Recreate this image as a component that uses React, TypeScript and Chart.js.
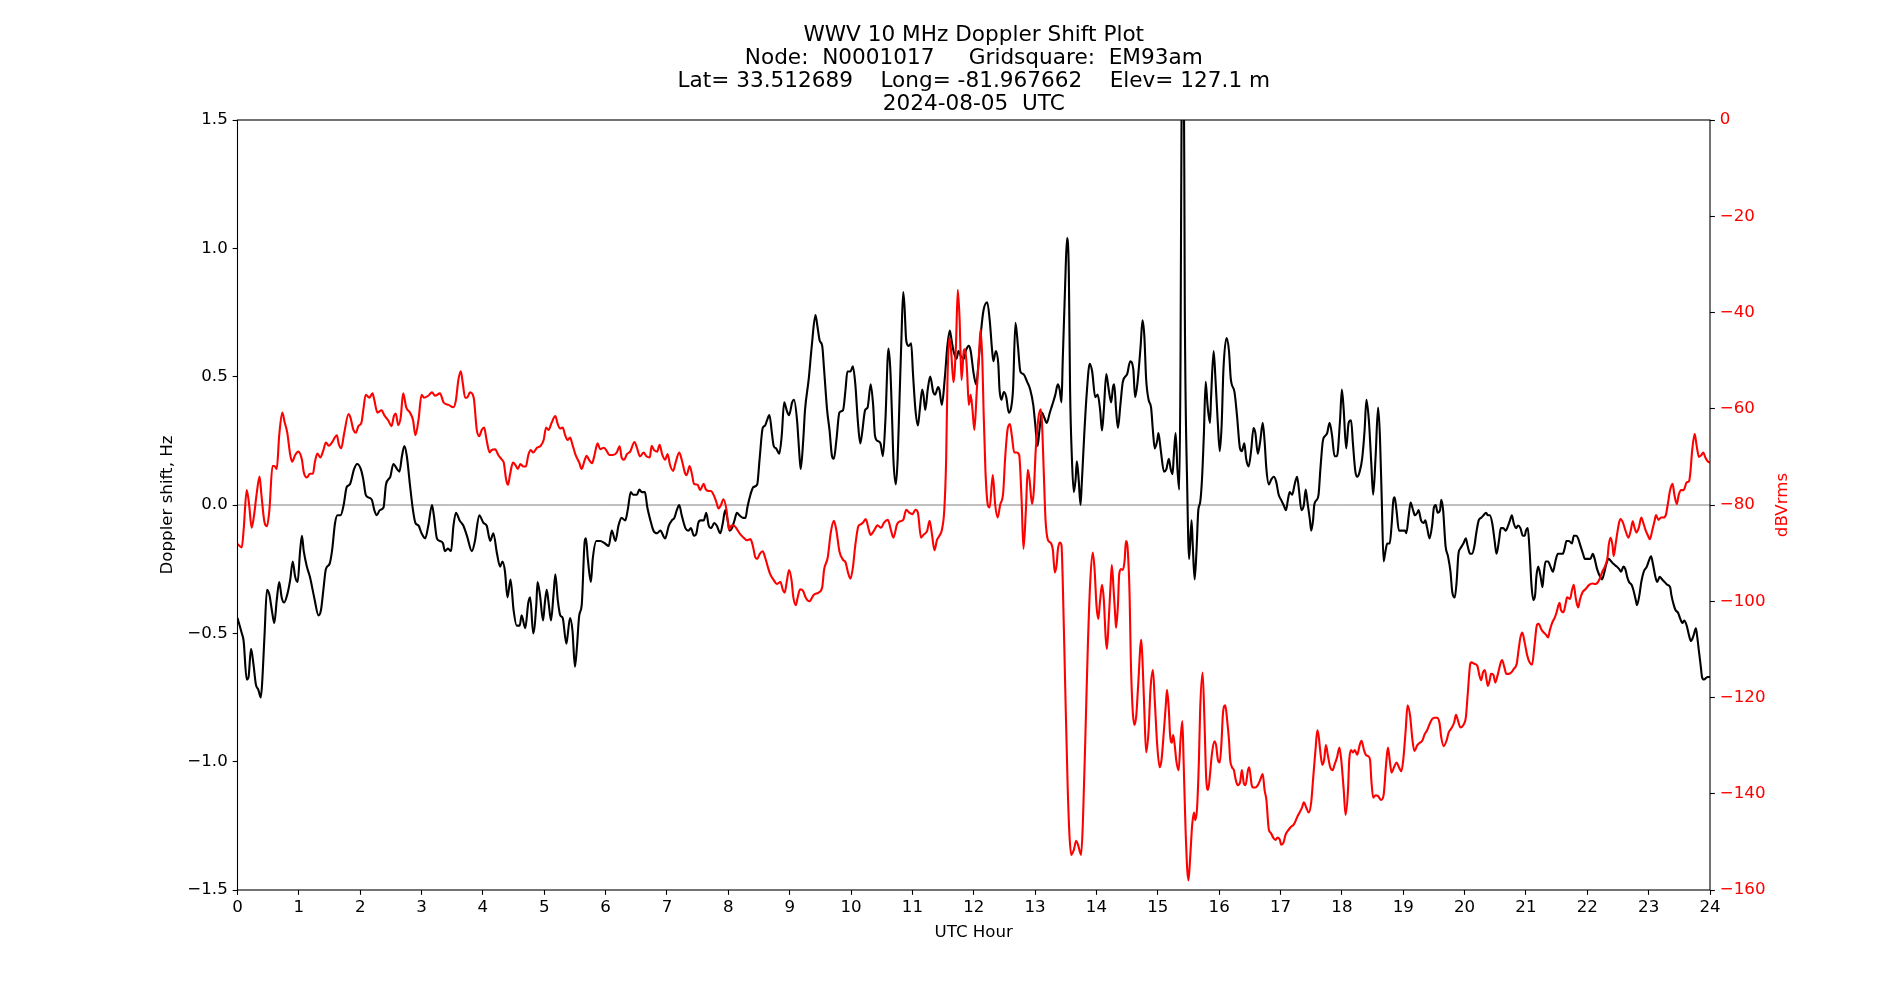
import { useEffect, useRef } from "react";
import { Chart, registerables } from "chart.js";

Chart.register(...registerables);

// Plot title, one entry per line
const TITLE_LINES = [
  "WWV 10 MHz Doppler Shift Plot",
  "Node:  N0001017     Gridsquare:  EM93am",
  "Lat= 33.512689    Long= -81.967662    Elev= 127.1 m",
  "2024-08-05  UTC",
];

const X_LABEL = "UTC Hour";
const Y_LABEL = "Doppler shift, Hz";
const Y2_LABEL = "dBVrms";

// Axis ranges
const HOUR_RANGE = [0, 24];
const DOPPLER_RANGE = [-1.5, 1.5];
const POWER_RANGE = [-160, 0];

// Doppler shift trace: [UTC hour, Hz]
const dopplerTrace: [number, number][] = [
  [0, -0.44], [0.07, -0.5], [0.1, -0.53], [0.15, -0.68], [0.18, -0.67], [0.22, -0.56], [0.26, -0.62], [0.3, -0.7],
  [0.34, -0.72], [0.38, -0.75], [0.4, -0.7], [0.44, -0.51], [0.48, -0.33], [0.52, -0.35], [0.56, -0.41], [0.6, -0.46],
  [0.64, -0.37], [0.68, -0.3], [0.72, -0.36], [0.76, -0.38], [0.81, -0.35], [0.86, -0.29], [0.9, -0.22], [0.94, -0.28],
  [0.98, -0.3], [1.02, -0.18], [1.05, -0.12], [1.08, -0.18], [1.13, -0.24], [1.18, -0.28], [1.25, -0.36], [1.32, -0.43],
  [1.36, -0.41], [1.4, -0.33], [1.44, -0.25], [1.5, -0.23], [1.54, -0.18], [1.59, -0.07], [1.63, -0.04], [1.68, -0.04],
  [1.73, 0.0], [1.78, 0.07], [1.83, 0.08], [1.9, 0.14], [1.95, 0.16], [2.01, 0.14], [2.05, 0.1], [2.09, 0.04],
  [2.13, 0.03], [2.19, 0.02], [2.23, -0.02], [2.27, -0.04], [2.32, -0.02], [2.38, -0.01], [2.42, 0.08], [2.49, 0.11],
  [2.54, 0.16], [2.6, 0.14], [2.64, 0.13], [2.68, 0.19], [2.72, 0.23], [2.76, 0.19], [2.81, 0.08], [2.86, -0.02],
  [2.9, -0.07], [2.95, -0.08], [3.0, -0.11], [3.06, -0.13], [3.11, -0.08], [3.17, 0.0], [3.2, -0.04], [3.25, -0.13],
  [3.3, -0.14], [3.35, -0.15], [3.38, -0.18], [3.43, -0.17], [3.48, -0.18], [3.52, -0.08], [3.56, -0.03], [3.62, -0.06],
  [3.68, -0.08], [3.74, -0.12], [3.82, -0.18], [3.87, -0.14], [3.94, -0.04], [4.01, -0.07], [4.06, -0.08], [4.12, -0.14],
  [4.17, -0.11], [4.23, -0.19], [4.28, -0.24], [4.32, -0.22], [4.36, -0.26], [4.4, -0.36], [4.45, -0.29], [4.5, -0.41],
  [4.55, -0.47], [4.6, -0.47], [4.63, -0.43], [4.69, -0.48], [4.74, -0.38], [4.77, -0.36], [4.82, -0.5], [4.87, -0.39],
  [4.89, -0.3], [4.93, -0.35], [4.98, -0.45], [5.01, -0.38], [5.04, -0.33], [5.07, -0.38], [5.11, -0.45], [5.15, -0.35],
  [5.18, -0.27], [5.22, -0.37], [5.26, -0.43], [5.3, -0.44], [5.36, -0.54], [5.38, -0.51], [5.42, -0.44], [5.46, -0.49],
  [5.5, -0.63], [5.53, -0.56], [5.57, -0.43], [5.61, -0.39], [5.66, -0.14], [5.68, -0.13], [5.71, -0.21], [5.76, -0.3],
  [5.79, -0.21], [5.85, -0.14], [5.91, -0.14], [5.99, -0.15], [6.05, -0.16], [6.1, -0.1], [6.16, -0.14], [6.21, -0.08],
  [6.26, -0.05], [6.32, -0.06], [6.36, -0.02], [6.41, 0.05], [6.45, 0.04], [6.51, 0.04], [6.55, 0.06], [6.59, 0.05],
  [6.64, 0.05], [6.68, -0.01], [6.73, -0.06], [6.78, -0.1], [6.84, -0.11], [6.89, -0.1], [6.97, -0.13], [7.03, -0.08],
  [7.08, -0.06], [7.12, -0.05], [7.16, -0.02], [7.2, 0.0], [7.24, -0.04], [7.3, -0.09], [7.35, -0.1], [7.39, -0.09],
  [7.44, -0.12], [7.48, -0.11], [7.51, -0.07], [7.55, -0.06], [7.6, -0.06], [7.64, -0.03], [7.68, -0.08], [7.72, -0.09],
  [7.77, -0.07], [7.81, -0.08], [7.87, -0.11], [7.91, -0.07], [7.95, -0.02], [7.99, -0.06], [8.02, -0.1], [8.06, -0.09],
  [8.1, -0.06], [8.14, -0.03], [8.18, -0.04], [8.24, -0.05], [8.28, -0.05], [8.31, -0.01], [8.36, 0.04], [8.41, 0.07],
  [8.47, 0.08], [8.51, 0.18], [8.56, 0.3], [8.6, 0.31], [8.63, 0.33], [8.67, 0.35], [8.71, 0.28], [8.74, 0.23],
  [8.78, 0.22], [8.83, 0.2], [8.87, 0.27], [8.91, 0.4], [8.95, 0.37], [8.99, 0.35], [9.04, 0.4], [9.07, 0.41],
  [9.12, 0.33], [9.16, 0.19], [9.18, 0.14], [9.22, 0.25], [9.25, 0.37], [9.31, 0.49], [9.36, 0.62], [9.42, 0.74],
  [9.45, 0.7], [9.49, 0.64], [9.53, 0.62], [9.56, 0.53], [9.61, 0.37], [9.65, 0.29], [9.69, 0.19], [9.72, 0.18],
  [9.76, 0.25], [9.81, 0.36], [9.87, 0.37], [9.91, 0.45], [9.94, 0.52], [9.99, 0.52], [10.03, 0.54], [10.07, 0.47],
  [10.11, 0.33], [10.15, 0.24], [10.18, 0.28], [10.23, 0.37], [10.27, 0.38], [10.32, 0.47], [10.36, 0.39], [10.39, 0.27],
  [10.43, 0.25], [10.48, 0.24], [10.52, 0.19], [10.56, 0.33], [10.61, 0.61], [10.64, 0.53], [10.67, 0.33], [10.69, 0.18],
  [10.73, 0.08], [10.76, 0.18], [10.79, 0.41], [10.82, 0.64], [10.85, 0.83], [10.87, 0.78], [10.9, 0.64], [10.94, 0.62],
  [10.98, 0.63], [11.01, 0.51], [11.05, 0.37], [11.09, 0.31], [11.12, 0.37], [11.16, 0.45], [11.18, 0.43], [11.21, 0.37],
  [11.25, 0.45], [11.29, 0.5], [11.34, 0.44], [11.37, 0.43], [11.42, 0.46], [11.44, 0.45], [11.48, 0.39], [11.53, 0.5],
  [11.57, 0.62], [11.61, 0.68], [11.64, 0.64], [11.67, 0.6], [11.72, 0.57], [11.75, 0.6], [11.79, 0.58], [11.84, 0.57],
  [11.87, 0.6], [11.92, 0.62], [11.95, 0.6], [12.0, 0.51], [12.04, 0.47], [12.08, 0.56], [12.12, 0.68], [12.16, 0.76],
  [12.22, 0.79], [12.26, 0.72], [12.3, 0.6], [12.32, 0.56], [12.36, 0.6], [12.4, 0.55], [12.42, 0.45], [12.45, 0.41],
  [12.49, 0.44], [12.53, 0.42], [12.57, 0.36], [12.61, 0.38], [12.64, 0.45], [12.68, 0.71], [12.72, 0.62], [12.76, 0.52],
  [12.81, 0.51], [12.87, 0.48], [12.92, 0.45], [12.97, 0.39], [13.0, 0.32], [13.04, 0.23], [13.07, 0.29], [13.11, 0.36],
  [13.15, 0.34], [13.19, 0.32], [13.24, 0.36], [13.28, 0.39], [13.33, 0.43], [13.37, 0.47], [13.4, 0.45], [13.43, 0.4],
  [13.45, 0.56], [13.49, 0.86], [13.52, 1.04], [13.55, 0.9], [13.57, 0.45], [13.6, 0.18], [13.63, 0.05], [13.66, 0.1],
  [13.68, 0.17], [13.71, 0.1], [13.74, 0.0], [13.76, 0.08], [13.8, 0.27], [13.84, 0.43], [13.89, 0.55], [13.93, 0.52],
  [13.98, 0.42], [14.02, 0.43], [14.06, 0.37], [14.09, 0.29], [14.12, 0.37], [14.16, 0.51], [14.2, 0.45], [14.24, 0.4],
  [14.27, 0.46], [14.29, 0.47], [14.32, 0.37], [14.35, 0.3], [14.39, 0.39], [14.43, 0.48], [14.5, 0.51], [14.55, 0.56],
  [14.6, 0.53], [14.63, 0.42], [14.67, 0.48], [14.72, 0.62], [14.75, 0.72], [14.78, 0.66], [14.81, 0.49], [14.85, 0.41],
  [14.89, 0.38], [14.92, 0.29], [14.95, 0.22], [14.99, 0.25], [15.01, 0.28], [15.05, 0.21], [15.1, 0.13], [15.14, 0.14],
  [15.18, 0.18], [15.21, 0.14], [15.24, 0.12], [15.26, 0.19], [15.29, 0.28], [15.32, 0.14], [15.35, 0.06], [15.37, 0.56],
  [15.38, 1.15], [15.4, 1.9], [15.42, 1.9], [15.44, 0.76], [15.48, 0.06], [15.51, -0.21], [15.55, -0.06], [15.57, -0.16],
  [15.6, -0.29], [15.63, -0.18], [15.66, -0.02], [15.69, 0.01], [15.72, 0.1], [15.75, 0.27], [15.78, 0.48], [15.81, 0.39],
  [15.85, 0.32], [15.87, 0.43], [15.91, 0.6], [15.94, 0.49], [15.98, 0.31], [16.01, 0.21], [16.04, 0.31], [16.07, 0.53],
  [16.12, 0.65], [16.16, 0.6], [16.19, 0.49], [16.25, 0.44], [16.29, 0.35], [16.34, 0.22], [16.37, 0.21], [16.41, 0.24],
  [16.44, 0.18], [16.48, 0.15], [16.52, 0.21], [16.56, 0.3], [16.59, 0.28], [16.63, 0.2], [16.67, 0.25], [16.71, 0.32],
  [16.74, 0.25], [16.77, 0.14], [16.81, 0.08], [16.85, 0.1], [16.89, 0.11], [16.93, 0.09], [16.97, 0.04], [17.01, 0.02],
  [17.05, 0.0], [17.09, -0.02], [17.12, 0.02], [17.15, 0.05], [17.19, 0.04], [17.23, 0.08], [17.27, 0.11], [17.3, 0.06],
  [17.34, -0.02], [17.38, 0.0], [17.41, 0.06], [17.44, 0.01], [17.48, -0.06], [17.5, -0.1], [17.53, -0.06], [17.55, 0.0],
  [17.59, 0.02], [17.62, 0.04], [17.65, 0.14], [17.69, 0.25], [17.73, 0.27], [17.76, 0.28], [17.8, 0.32], [17.84, 0.27],
  [17.88, 0.19], [17.92, 0.19], [17.97, 0.33], [18.0, 0.45], [18.03, 0.37], [18.07, 0.22], [18.11, 0.32], [18.15, 0.33],
  [18.18, 0.24], [18.22, 0.13], [18.25, 0.11], [18.29, 0.13], [18.33, 0.18], [18.37, 0.29], [18.4, 0.41], [18.44, 0.33],
  [18.48, 0.16], [18.51, 0.04], [18.55, 0.19], [18.59, 0.38], [18.62, 0.27], [18.65, 0.02], [18.68, -0.22], [18.71, -0.18],
  [18.74, -0.15], [18.78, -0.15], [18.81, -0.08], [18.84, 0.02], [18.86, 0.03], [18.89, -0.02], [18.93, -0.1], [18.97, -0.1],
  [19.0, -0.1], [19.03, -0.1], [19.05, -0.11], [19.09, -0.04], [19.12, 0.01], [19.16, -0.02], [19.19, -0.04], [19.23, -0.03],
  [19.25, -0.02], [19.29, -0.06], [19.33, -0.07], [19.36, -0.06], [19.39, -0.09], [19.43, -0.13], [19.47, -0.08], [19.5, -0.01],
  [19.53, 0.0], [19.56, -0.03], [19.6, -0.02], [19.62, 0.02], [19.65, -0.02], [19.69, -0.16], [19.73, -0.2], [19.77, -0.26],
  [19.8, -0.34], [19.84, -0.36], [19.87, -0.3], [19.9, -0.19], [19.93, -0.17], [19.98, -0.15], [20.02, -0.13], [20.05, -0.16],
  [20.09, -0.19], [20.12, -0.19], [20.16, -0.16], [20.19, -0.11], [20.23, -0.06], [20.27, -0.05], [20.31, -0.04], [20.35, -0.03],
  [20.38, -0.04], [20.41, -0.04], [20.45, -0.07], [20.49, -0.14], [20.52, -0.19], [20.56, -0.14], [20.59, -0.09], [20.63, -0.09],
  [20.67, -0.1], [20.71, -0.08], [20.74, -0.06], [20.77, -0.04], [20.8, -0.07], [20.84, -0.09], [20.87, -0.08], [20.91, -0.09],
  [20.95, -0.12], [20.98, -0.12], [21.0, -0.1], [21.03, -0.09], [21.06, -0.18], [21.09, -0.31], [21.12, -0.37], [21.15, -0.35],
  [21.17, -0.28], [21.2, -0.24], [21.24, -0.28], [21.27, -0.32], [21.29, -0.27], [21.32, -0.22], [21.36, -0.22], [21.4, -0.24],
  [21.44, -0.26], [21.48, -0.22], [21.52, -0.19], [21.56, -0.19], [21.6, -0.19], [21.63, -0.17], [21.66, -0.14], [21.7, -0.14],
  [21.75, -0.15], [21.78, -0.12], [21.82, -0.12], [21.85, -0.13], [21.89, -0.16], [21.93, -0.19], [21.96, -0.21], [22.0, -0.21],
  [22.05, -0.21], [22.09, -0.19], [22.12, -0.21], [22.16, -0.25], [22.21, -0.28], [22.24, -0.29], [22.28, -0.26], [22.31, -0.23],
  [22.35, -0.21], [22.39, -0.22], [22.43, -0.23], [22.48, -0.24], [22.52, -0.25], [22.55, -0.26], [22.59, -0.24], [22.62, -0.25],
  [22.65, -0.28], [22.68, -0.3], [22.72, -0.31], [22.75, -0.33], [22.79, -0.37], [22.81, -0.39], [22.85, -0.35], [22.88, -0.3],
  [22.92, -0.26], [22.97, -0.24], [23.0, -0.22], [23.04, -0.2], [23.07, -0.23], [23.11, -0.28], [23.14, -0.3], [23.18, -0.28],
  [23.22, -0.29], [23.26, -0.3], [23.3, -0.31], [23.35, -0.32], [23.37, -0.35], [23.41, -0.39], [23.44, -0.41], [23.48, -0.42],
  [23.51, -0.44], [23.55, -0.46], [23.58, -0.45], [23.62, -0.47], [23.66, -0.51], [23.69, -0.53], [23.73, -0.51], [23.77, -0.48],
  [23.79, -0.51], [23.82, -0.57], [23.85, -0.63], [23.87, -0.67], [23.9, -0.68], [23.96, -0.67], [24.0, -0.67],
];

// Received signal level trace: [UTC hour, dBVrms]
const powerTrace: [number, number][] = [
  [0, -88.1], [0.07, -88.8], [0.1, -85.2], [0.15, -76.9], [0.19, -80.0], [0.23, -84.7], [0.27, -82.1], [0.31, -77.9],
  [0.36, -74.1], [0.39, -77.9], [0.44, -83.6], [0.48, -84.4], [0.52, -81.0], [0.57, -71.9], [0.6, -71.9], [0.64, -72.5],
  [0.68, -65.5], [0.73, -60.8], [0.77, -62.9], [0.81, -64.9], [0.86, -69.6], [0.89, -71.0], [0.94, -69.6], [0.99, -68.9],
  [1.05, -70.6], [1.08, -73.2], [1.13, -74.3], [1.18, -73.5], [1.23, -73.5], [1.26, -71.2], [1.3, -69.3], [1.35, -70.1],
  [1.4, -68.6], [1.44, -67.0], [1.49, -67.7], [1.54, -67.0], [1.62, -65.5], [1.65, -67.3], [1.69, -68.2], [1.74, -65.0],
  [1.81, -61.1], [1.84, -61.8], [1.89, -64.4], [1.93, -65.0], [1.97, -63.6], [2.02, -62.9], [2.05, -60.3], [2.09, -57.1],
  [2.15, -57.7], [2.2, -56.8], [2.23, -58.2], [2.28, -60.8], [2.35, -60.3], [2.39, -61.3], [2.46, -62.5], [2.51, -63.6],
  [2.55, -61.5], [2.58, -61.0], [2.62, -63.4], [2.66, -61.8], [2.7, -56.8], [2.75, -59.7], [2.81, -60.8], [2.86, -62.3],
  [2.9, -65.5], [2.95, -62.3], [3.0, -57.1], [3.04, -57.7], [3.11, -57.3], [3.17, -56.6], [3.22, -57.3], [3.3, -56.8],
  [3.36, -58.7], [3.44, -59.2], [3.52, -59.7], [3.56, -58.2], [3.6, -54.0], [3.64, -52.2], [3.67, -54.5], [3.71, -57.7],
  [3.74, -57.7], [3.79, -56.6], [3.85, -57.7], [3.9, -64.4], [3.94, -65.7], [3.98, -64.4], [4.02, -63.9], [4.06, -66.5],
  [4.11, -69.1], [4.14, -68.6], [4.2, -68.4], [4.25, -69.6], [4.31, -70.6], [4.34, -71.2], [4.38, -74.8], [4.41, -75.8],
  [4.44, -73.8], [4.49, -71.2], [4.53, -71.7], [4.57, -72.5], [4.61, -71.5], [4.66, -72.0], [4.7, -72.0], [4.74, -69.6],
  [4.78, -68.6], [4.82, -69.1], [4.88, -68.1], [4.94, -67.7], [4.99, -66.5], [5.03, -63.9], [5.07, -64.4], [5.12, -62.9],
  [5.18, -61.5], [5.22, -63.2], [5.26, -64.1], [5.3, -63.9], [5.34, -65.5], [5.38, -66.5], [5.42, -66.0], [5.46, -67.5],
  [5.51, -69.6], [5.57, -71.2], [5.61, -72.5], [5.66, -70.6], [5.69, -69.8], [5.73, -70.6], [5.78, -71.3], [5.81, -70.1],
  [5.87, -67.2], [5.91, -68.4], [5.97, -68.1], [6.01, -68.6], [6.06, -69.6], [6.12, -69.6], [6.18, -69.1], [6.23, -67.8],
  [6.26, -70.1], [6.3, -70.6], [6.35, -69.4], [6.4, -68.9], [6.47, -66.9], [6.51, -68.1], [6.56, -69.9], [6.62, -69.1],
  [6.66, -69.8], [6.72, -70.1], [6.75, -67.7], [6.79, -68.6], [6.84, -68.9], [6.88, -67.5], [6.92, -69.4], [6.97, -70.6],
  [7.01, -69.4], [7.05, -71.7], [7.1, -72.9], [7.14, -71.2], [7.2, -69.1], [7.24, -70.6], [7.3, -73.6], [7.32, -73.8],
  [7.37, -71.9], [7.41, -73.8], [7.44, -75.6], [7.5, -75.8], [7.54, -76.9], [7.6, -75.6], [7.63, -76.7], [7.68, -77.1],
  [7.72, -77.1], [7.76, -77.9], [7.8, -79.2], [7.84, -80.7], [7.88, -80.0], [7.92, -78.8], [7.97, -81.0], [8.01, -85.2],
  [8.04, -84.4], [8.08, -84.2], [8.14, -85.0], [8.19, -86.0], [8.25, -86.8], [8.3, -87.3], [8.36, -87.1], [8.4, -88.5],
  [8.44, -90.9], [8.47, -91.2], [8.51, -90.2], [8.56, -89.6], [8.6, -90.9], [8.64, -92.7], [8.68, -94.3], [8.74, -95.6],
  [8.79, -96.4], [8.85, -96.0], [8.89, -97.7], [8.92, -98.2], [8.95, -96.1], [8.99, -93.5], [9.03, -95.6], [9.06, -99.2],
  [9.1, -100.8], [9.13, -99.2], [9.17, -97.5], [9.22, -97.9], [9.26, -99.2], [9.32, -100.0], [9.39, -98.7], [9.47, -98.2],
  [9.53, -97.1], [9.56, -93.5], [9.62, -90.9], [9.67, -85.7], [9.72, -83.3], [9.76, -85.2], [9.81, -89.6], [9.87, -91.4],
  [9.91, -91.9], [9.95, -94.0], [9.99, -95.3], [10.03, -93.0], [10.07, -88.3], [10.12, -84.4], [10.16, -84.0], [10.2, -83.6],
  [10.24, -82.9], [10.29, -85.2], [10.32, -86.2], [10.38, -85.2], [10.43, -84.2], [10.49, -84.7], [10.54, -83.6], [10.6, -83.1],
  [10.65, -85.2], [10.69, -86.8], [10.75, -84.0], [10.8, -83.4], [10.85, -83.1], [10.9, -81.0], [10.95, -81.6], [11.0, -81.9],
  [11.05, -81.0], [11.09, -81.6], [11.14, -86.8], [11.18, -86.2], [11.24, -85.4], [11.28, -83.3], [11.32, -86.2], [11.36, -89.4],
  [11.4, -87.3], [11.44, -86.4], [11.48, -85.2], [11.52, -81.0], [11.55, -70.6], [11.57, -55.1], [11.6, -45.2], [11.63, -47.8],
  [11.67, -54.5], [11.71, -46.8], [11.74, -35.3], [11.77, -41.6], [11.8, -54.0], [11.84, -47.8], [11.86, -47.6], [11.89, -52.0],
  [11.92, -59.2], [11.95, -57.1], [11.98, -60.3], [12.01, -64.4], [12.05, -56.1], [12.09, -47.8], [12.11, -43.6], [12.14, -49.9],
  [12.16, -60.3], [12.19, -72.7], [12.23, -80.0], [12.26, -80.5], [12.31, -73.8], [12.35, -80.0], [12.39, -82.6], [12.43, -80.0],
  [12.48, -77.4], [12.51, -70.6], [12.55, -64.4], [12.59, -63.2], [12.62, -65.5], [12.66, -69.1], [12.7, -69.1], [12.74, -69.6],
  [12.78, -79.0], [12.81, -89.1], [12.85, -81.0], [12.88, -72.7], [12.91, -74.8], [12.95, -79.8], [12.98, -76.9], [13.01, -68.6],
  [13.05, -62.3], [13.09, -60.1], [13.11, -62.3], [13.14, -72.7], [13.17, -83.1], [13.21, -87.3], [13.25, -87.8], [13.29, -89.4],
  [13.32, -94.0], [13.35, -92.5], [13.37, -89.4], [13.4, -87.8], [13.43, -88.3], [13.45, -95.6], [13.49, -117.4], [13.53, -138.2],
  [13.56, -148.6], [13.59, -152.7], [13.63, -151.7], [13.67, -149.8], [13.7, -150.6], [13.75, -152.7], [13.78, -145.5], [13.82, -127.8],
  [13.86, -109.1], [13.9, -95.6], [13.94, -89.9], [13.97, -93.5], [14.0, -100.8], [14.03, -103.7], [14.06, -99.7], [14.09, -96.6],
  [14.12, -99.7], [14.15, -107.5], [14.17, -109.9], [14.2, -103.9], [14.23, -96.6], [14.25, -92.5], [14.28, -97.7], [14.31, -103.9],
  [14.32, -105.5], [14.35, -100.8], [14.37, -94.5], [14.4, -93.3], [14.43, -93.5], [14.46, -91.4], [14.48, -87.5], [14.51, -89.4],
  [14.54, -98.7], [14.56, -112.2], [14.59, -122.6], [14.62, -125.7], [14.65, -123.6], [14.68, -117.4], [14.73, -108.0], [14.75, -112.2],
  [14.78, -122.6], [14.81, -131.4], [14.85, -126.8], [14.88, -118.4], [14.92, -114.3], [14.95, -120.5], [14.99, -129.9], [15.03, -134.5],
  [15.06, -133.0], [15.1, -126.8], [15.13, -121.6], [15.15, -118.4], [15.18, -122.6], [15.2, -127.8], [15.23, -129.4], [15.25, -127.8],
  [15.28, -130.4], [15.3, -133.0], [15.34, -135.1], [15.37, -128.8], [15.4, -124.9], [15.42, -133.0], [15.45, -146.5], [15.48, -155.8],
  [15.5, -158.0], [15.53, -152.7], [15.56, -146.5], [15.59, -143.9], [15.61, -145.5], [15.64, -142.9], [15.67, -133.0], [15.69, -122.6],
  [15.73, -114.8], [15.76, -124.7], [15.79, -137.1], [15.82, -139.2], [15.85, -136.1], [15.88, -131.9], [15.92, -129.1], [15.95, -129.9],
  [15.98, -133.0], [16.01, -133.5], [16.04, -128.8], [16.06, -123.6], [16.1, -121.6], [16.13, -124.7], [16.16, -128.8], [16.18, -133.0],
  [16.21, -134.5], [16.24, -135.1], [16.27, -137.1], [16.3, -138.2], [16.34, -137.7], [16.37, -135.1], [16.4, -137.7], [16.43, -138.2],
  [16.47, -135.1], [16.49, -134.5], [16.53, -138.2], [16.55, -138.7], [16.59, -138.7], [16.63, -138.2], [16.67, -137.1], [16.71, -135.9],
  [16.74, -139.2], [16.77, -141.3], [16.81, -147.5], [16.84, -148.1], [16.88, -149.1], [16.92, -149.6], [16.95, -149.1], [16.99, -149.6],
  [17.01, -150.6], [17.05, -150.1], [17.08, -148.6], [17.12, -147.7], [17.16, -147.0], [17.22, -146.3], [17.27, -144.9], [17.31, -143.9],
  [17.35, -142.9], [17.38, -141.8], [17.42, -142.9], [17.46, -143.9], [17.5, -141.8], [17.53, -137.1], [17.57, -130.9], [17.6, -126.8],
  [17.62, -127.8], [17.65, -131.4], [17.68, -134.0], [17.71, -133.0], [17.74, -129.9], [17.77, -131.9], [17.81, -134.5], [17.85, -135.1],
  [17.88, -134.0], [17.92, -132.5], [17.96, -130.4], [17.99, -133.0], [18.03, -139.2], [18.06, -144.4], [18.1, -139.2], [18.12, -133.0],
  [18.15, -130.9], [18.18, -131.4], [18.21, -130.9], [18.25, -131.9], [18.29, -129.9], [18.32, -129.0], [18.36, -130.9], [18.39, -131.9],
  [18.43, -132.2], [18.46, -133.0], [18.48, -137.1], [18.51, -140.8], [18.55, -140.3], [18.59, -140.5], [18.64, -141.3], [18.68, -140.3],
  [18.72, -134.0], [18.75, -130.4], [18.78, -133.0], [18.81, -135.6], [18.85, -134.5], [18.89, -133.5], [18.93, -134.5], [18.97, -135.3],
  [19.0, -133.0], [19.04, -126.8], [19.07, -121.6], [19.11, -123.6], [19.15, -128.8], [19.18, -131.1], [19.23, -129.9], [19.27, -129.4],
  [19.31, -129.0], [19.35, -127.6], [19.39, -126.8], [19.43, -125.5], [19.47, -124.5], [19.51, -124.2], [19.55, -124.2], [19.59, -125.2],
  [19.62, -128.3], [19.66, -130.1], [19.71, -128.8], [19.74, -127.3], [19.78, -126.5], [19.83, -125.2], [19.86, -123.6], [19.89, -124.7],
  [19.93, -126.2], [19.98, -125.7], [20.02, -124.2], [20.05, -119.5], [20.09, -113.2], [20.11, -112.7], [20.16, -113.0], [20.21, -113.5],
  [20.24, -115.3], [20.27, -116.4], [20.3, -114.8], [20.33, -114.3], [20.36, -116.4], [20.38, -117.6], [20.41, -116.4], [20.43, -115.1],
  [20.47, -115.3], [20.5, -116.9], [20.54, -115.3], [20.59, -112.7], [20.61, -112.2], [20.65, -113.8], [20.68, -115.1], [20.72, -115.1],
  [20.76, -114.8], [20.8, -114.1], [20.85, -113.0], [20.88, -110.1], [20.91, -107.5], [20.94, -106.5], [20.98, -108.6], [21.02, -111.2],
  [21.06, -112.7], [21.1, -113.2], [21.14, -109.1], [21.18, -104.9], [21.21, -104.7], [21.25, -105.8], [21.29, -106.5], [21.33, -107.0],
  [21.36, -107.5], [21.39, -106.0], [21.43, -104.4], [21.47, -103.4], [21.5, -102.3], [21.53, -100.8], [21.55, -100.3], [21.57, -101.8],
  [21.61, -102.3], [21.65, -100.3], [21.67, -99.2], [21.72, -99.5], [21.75, -97.7], [21.78, -96.6], [21.81, -99.2], [21.85, -101.3],
  [21.88, -99.7], [21.92, -98.2], [21.97, -97.5], [22.03, -96.6], [22.08, -96.3], [22.13, -96.4], [22.17, -96.1], [22.21, -95.1],
  [22.24, -94.0], [22.29, -92.7], [22.33, -90.9], [22.35, -88.3], [22.38, -86.8], [22.41, -88.3], [22.43, -90.6], [22.46, -88.3],
  [22.49, -85.7], [22.52, -83.6], [22.54, -82.9], [22.58, -83.6], [22.62, -85.2], [22.67, -86.8], [22.71, -85.2], [22.74, -83.4],
  [22.77, -84.7], [22.8, -85.7], [22.84, -84.7], [22.88, -82.6], [22.91, -83.6], [22.95, -85.2], [22.99, -86.4], [23.02, -87.1],
  [23.06, -85.2], [23.1, -83.1], [23.12, -82.1], [23.16, -83.1], [23.2, -82.6], [23.24, -82.6], [23.28, -82.1], [23.31, -80.0],
  [23.35, -76.9], [23.39, -75.6], [23.42, -77.9], [23.46, -79.8], [23.49, -77.9], [23.53, -76.9], [23.57, -76.9], [23.62, -75.3],
  [23.66, -75.0], [23.68, -73.2], [23.71, -68.6], [23.75, -65.2], [23.78, -67.5], [23.82, -70.0], [23.86, -69.6], [23.89, -69.1],
  [23.93, -70.3], [23.97, -71.0], [24.0, -71.2],
];

// Zero-shift reference line
const zeroLine: [number, number][] = [
  [0, 0],
  [24, 0],
];

const FONT = "DejaVu Sans";
const TICK_SIZE = 16.67;
const TITLE_SIZE = 21.6;
const TITLE_LINE_STEP = 23;
const TITLE_FIRST_LINE_Y = 35.5;

const minus = (s: string) => s.replace("-", "\u2212");

// Multi-line title centred over the plot area, axes frame (all four spines)
// and the right-hand axis label
const framePlugin = {
  id: "axesFrame",
  afterDatasetsDraw(chart: any) {
    const { ctx, chartArea } = chart;
    const { left, right, top, bottom } = chartArea;
    ctx.save();
    ctx.strokeStyle = "#000";
    ctx.lineWidth = 1.1;
    ctx.strokeRect(left, top, right - left, bottom - top);
    ctx.restore();
  },
  afterDraw(chart: any) {
    const { ctx, chartArea } = chart;
    const scale = chart.scales.y2;
    ctx.save();
    ctx.fillStyle = "#000";
    ctx.font = `${TITLE_SIZE}px "${FONT}"`;
    ctx.textAlign = "center";
    ctx.textBaseline = "middle";
    const cx = (chartArea.left + chartArea.right) / 2;
    TITLE_LINES.forEach((line, i) => {
      ctx.fillText(line, cx, TITLE_FIRST_LINE_Y + i * TITLE_LINE_STEP);
    });
    ctx.restore();

    ctx.save();
    ctx.translate(scale.left + 73, (chartArea.top + chartArea.bottom) / 2);
    ctx.rotate(-Math.PI / 2);
    ctx.fillStyle = "#ff0000";
    ctx.font = `${TICK_SIZE}px "${FONT}"`;
    ctx.textAlign = "center";
    ctx.textBaseline = "middle";
    ctx.fillText(Y2_LABEL, 0, 0);
    ctx.restore();
  },
};

const toPoints = (trace: [number, number][]) => trace.map(([x, y]) => ({ x, y }));

export default function App() {
  const canvasRef = useRef<HTMLCanvasElement | null>(null);

  useEffect(() => {
    const canvas = canvasRef.current;
    if (!canvas) return;

    const tickFont = { family: FONT, size: TICK_SIZE };
    const tickMarks = {
      display: true,
      drawOnChartArea: false,
      drawTicks: true,
      tickLength: 4.86,
      tickWidth: 1.1,
      color: "#000",
    };

    const chart = new Chart(canvas, {
      type: "line",
      data: {
        datasets: [
          {
            label: "Signal level",
            data: toPoints(powerTrace),
            yAxisID: "y2",
            borderColor: "#ff0000",
            borderWidth: 2.1,
            pointRadius: 0,
            fill: false,
            cubicInterpolationMode: "monotone",
          },
          {
            label: "Doppler shift",
            data: toPoints(dopplerTrace),
            yAxisID: "y",
            borderColor: "#000000",
            borderWidth: 2.1,
            pointRadius: 0,
            fill: false,
            cubicInterpolationMode: "monotone",
          },
          {
            label: "Zero",
            data: toPoints(zeroLine),
            yAxisID: "y",
            borderColor: "#808080",
            borderWidth: 1,
            pointRadius: 0,
            fill: false,
          },
        ],
      },
      options: {
        responsive: false,
        animation: false,
        devicePixelRatio: 1,
        events: [],
        layout: { padding: { top: 120, left: 0, right: 0, bottom: 0 } },
        plugins: {
          legend: { display: false },
          tooltip: { enabled: false },
          title: { display: false },
        },
        scales: {
          x: {
            type: "linear",
            position: "bottom",
            min: HOUR_RANGE[0],
            max: HOUR_RANGE[1],
            afterFit: (s: any) => {
              s.height = 110;
            },
            ticks: {
              stepSize: 1,
              color: "#000",
              font: tickFont,
              padding: 3,
              maxRotation: 0,
              autoSkip: false,
              callback: (v: any) => minus(String(v)),
            },
            grid: tickMarks,
            border: { display: false },
            title: {
              display: true,
              text: X_LABEL,
              color: "#000",
              font: { family: FONT, size: TICK_SIZE },
              padding: { top: 0, bottom: 57.5 },
            },
          },
          y: {
            type: "linear",
            position: "left",
            min: DOPPLER_RANGE[0],
            max: DOPPLER_RANGE[1],
            afterFit: (s: any) => {
              s.width = 237.5;
            },
            ticks: {
              stepSize: 0.5,
              color: "#000",
              font: tickFont,
              padding: 4.9,
              callback: (v: any) => minus(Number(v).toFixed(1)),
            },
            grid: tickMarks,
            border: { display: false },
            title: {
              display: true,
              text: Y_LABEL,
              color: "#000",
              font: { family: FONT, size: TICK_SIZE },
              padding: { top: 157.5, bottom: 0 },
            },
          },
          y2: {
            type: "linear",
            position: "right",
            min: POWER_RANGE[0],
            max: POWER_RANGE[1],
            afterFit: (s: any) => {
              s.width = 190;
            },
            ticks: {
              stepSize: 20,
              color: "#ff0000",
              font: tickFont,
              padding: 4.9,
              callback: (v: any) => minus(String(v)),
            },
            grid: tickMarks,
            border: { display: false },
          },
        },
      },
      plugins: [framePlugin],
    } as any);

    return () => chart.destroy();
  }, []);

  return (
    <div style={{ position: "absolute", left: 0, top: 0, width: 1900, height: 1000, background: "#fff" }}>
      <canvas ref={canvasRef} width={1900} height={1000} style={{ width: 1900, height: 1000, display: "block" }} />
    </div>
  );
}
